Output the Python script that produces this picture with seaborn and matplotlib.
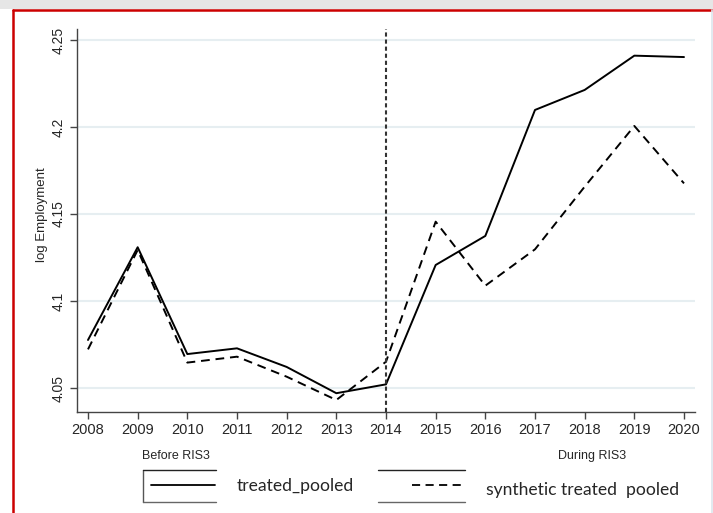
import matplotlib
matplotlib.use("Agg")
import matplotlib.pyplot as plt
import seaborn as sns
import pandas as pd
from matplotlib.lines import Line2D
from matplotlib.patches import Rectangle

years = [2008, 2009, 2010, 2011, 2012, 2013, 2014, 2015, 2016, 2017, 2018, 2019, 2020]
treated_pooled = [4.0776, 4.1309, 4.0695, 4.0728, 4.0621, 4.0470, 4.0521,
                  4.1207, 4.1374, 4.2098, 4.2213, 4.2410, 4.2402]
synthetic_pooled = [4.0722, 4.1293, 4.0646, 4.0680, 4.0565, 4.0431, 4.0651,
                    4.1456, 4.1088, 4.1297, 4.1657, 4.2006, 4.1676]
series_names = ["treated_pooled", "synthetic treated  pooled"]
y_ticks = [4.05, 4.1, 4.15, 4.2, 4.25]
y_tick_labels = ["4.05", "4.1", "4.15", "4.2", "4.25"]
treatment_year = 2014

df = pd.DataFrame({
    "year": years * 2,
    "value": treated_pooled + synthetic_pooled,
    "series": [series_names[0]] * len(years) + [series_names[1]] * len(years),
})

sns.set_theme(style="white")
plt.rcParams['font.family'] = ['Liberation Sans', 'DejaVu Sans']

W, H = 713, 513
fig = plt.figure(figsize=(W / 100, H / 100), dpi=100, facecolor="white")

def fx(px):
    return px / W

def fy(py):
    return 1 - py / H

# page frame
fig.add_artist(Rectangle((0, fy(9)), 1, 9 / H, transform=fig.transFigure,
                         facecolor="#e6e6e6", edgecolor="none", zorder=0))
fig.add_artist(Line2D([fx(13), fx(13)], [0, fy(10)], transform=fig.transFigure,
                      color="#cc0000", lw=1.8))
fig.add_artist(Line2D([fx(13), 1], [fy(10), fy(10)], transform=fig.transFigure,
                      color="#cc0000", lw=1.8))
fig.add_artist(Line2D([fx(711.5), fx(711.5)], [0, fy(10)], transform=fig.transFigure,
                      color="#dde6ee", lw=1.2))

ax = fig.add_axes([fx(77), fy(412), fx(695) - fx(77), fy(29) - fy(412)])
ax.set_facecolor("none")

sns.lineplot(data=df, x="year", y="value", style="series", ax=ax,
             color="black", linewidth=1.4,
             dashes={series_names[0]: "", series_names[1]: (4.5, 3)},
             legend=False)

ax.axvline(treatment_year, color="#333333", lw=1.5, linestyle=(0, (2, 1.4)), zorder=3)

ax.set_xlim(2008 - 11 / 49.67, 2020 + 11 / 49.67)
ax.set_ylim(4.05 - 24 / 1740, 4.25 + 11 / 1740)
ax.set_xticks(years)
ax.set_xticklabels([str(y) for y in years], fontsize=10.5)
ax.set_yticks(y_ticks)
ax.set_yticklabels(y_tick_labels, fontsize=10, rotation=90, va="center")
ax.grid(axis="y", color="#e6eef1", lw=1.5)
ax.grid(axis="x", visible=False)
for s in ["top", "right"]:
    ax.spines[s].set_visible(False)
for s in ["left", "bottom"]:
    ax.spines[s].set_color("#444444")
    ax.spines[s].set_linewidth(1.0)
ax.tick_params(axis="both", which="both", direction="out", length=5, width=1.0,
               color="#444444", left=True, bottom=True, pad=3)
ax.set_xlabel("")
ax.set_ylabel("log Employment", fontsize=9.5)
ax.yaxis.set_label_coords(-(77 - 48) / (695 - 77), (412 - 215) / (412 - 29))

fig.text(fx(176), fy(456), "Before RIS3", fontsize=9, ha="center", va="center")
fig.text(fx(592), fy(456), "During RIS3", fontsize=9, ha="center", va="center")

# legend drawn as boxed samples
def fline(x0, x1, y0, y1, **kw):
    fig.add_artist(Line2D([fx(x0), fx(x1)], [fy(y0), fy(y1)],
                          transform=fig.transFigure, **kw))

fline(143, 143, 470, 502, color="#555555", lw=1.0)
fline(143, 216, 470, 470, color="#222222", lw=1.0)
fline(143, 216, 502, 502, color="#666666", lw=1.0)
fline(151, 215, 485, 485, color="black", lw=1.3)
fig.text(fx(237), fy(486), series_names[0], fontsize=12.6, family=["Lato", "DejaVu Sans"],
         ha="left", va="center")

fline(378, 465, 470, 470, color="#222222", lw=1.0)
fline(378, 465, 502, 502, color="#666666", lw=1.0)
fline(412, 465, 485, 485, color="black", lw=1.3, linestyle=(0, (4.5, 3)))
fig.text(fx(486), fy(490), series_names[1], fontsize=12.6, family=["Lato", "DejaVu Sans"],
         ha="left", va="center")

fig.savefig("out.png", dpi=100, facecolor="white")
